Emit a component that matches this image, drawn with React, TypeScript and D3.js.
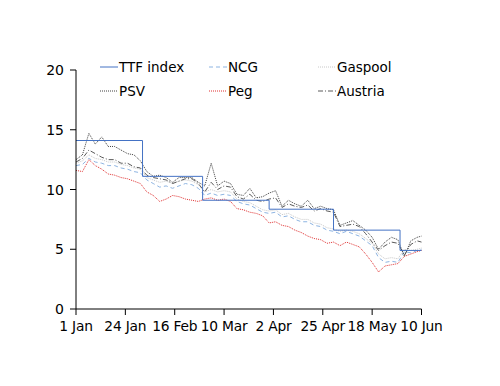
import React from "react";
import * as d3 from "d3";

const tickLabels = ["1 Jan", "24 Jan", "16 Feb", "10 Mar", "2 Apr", "25 Apr", "18 May", "10 Jun"];
const tickDays = [0, 23, 46, 69, 92, 115, 138, 161];
const yTicks = [0, 5, 10, 15, 20];

const days = [0, 3, 6, 9, 12, 15, 18, 21, 24, 27, 30, 33, 36, 39, 42, 45, 48, 51, 54, 57, 60, 63, 66, 69, 72, 75, 78, 81, 84, 87, 90, 93, 96, 99, 102, 105, 108, 111, 114, 117, 120, 123, 126, 129, 132, 135, 138, 141, 144, 147, 150, 153, 156, 159, 161];

const psv = [12.5, 12.9, 14.7, 13.8, 14.4, 13.6, 13.6, 13.3, 13.0, 12.9, 12.4, 11.5, 11.1, 11.2, 11.0, 10.6, 11.0, 11.0, 11.0, 10.6, 10.3, 12.2, 10.3, 10.7, 10.5, 9.6, 9.5, 10.1, 9.3, 9.4, 9.7, 9.9, 8.6, 9.1, 8.8, 8.6, 9.1, 8.4, 8.6, 8.4, 8.3, 7.0, 7.2, 7.4, 7.0, 6.6, 6.0, 5.0, 5.6, 6.0, 5.8, 4.4, 5.7, 6.0, 6.1];
const austria = [12.3, 12.6, 13.3, 13.0, 12.7, 12.5, 12.5, 12.2, 12.2, 11.9, 11.8, 11.2, 11.0, 10.9, 10.8, 10.5, 10.7, 10.9, 10.9, 10.5, 9.8, 10.6, 10.0, 10.3, 10.2, 9.4, 9.2, 9.6, 9.1, 9.0, 9.2, 9.3, 8.5, 8.8, 8.6, 8.5, 8.7, 8.2, 8.4, 8.2, 8.1, 6.9, 7.0, 7.1, 6.9, 6.3, 5.6, 4.9, 5.3, 5.6, 5.5, 4.5, 5.4, 5.7, 5.6];
const ncg = [12.0, 12.1, 12.6, 12.3, 12.2, 12.0, 12.0, 11.8, 11.7, 11.5, 11.4, 10.8, 10.5, 10.2, 10.3, 10.1, 10.3, 10.5, 10.4, 10.1, 9.5, 9.7, 9.5, 9.6, 9.5, 9.0, 8.8, 8.7, 8.4, 8.1, 8.0, 8.1, 7.7, 7.8, 7.5, 7.3, 7.3, 7.0, 6.9, 6.6, 6.5, 6.3, 6.5, 6.3, 6.1, 5.7, 5.3, 4.3, 3.9, 4.0, 3.9, 4.8, 4.7, 4.9, 5.0];
const gaspool = [12.2, 12.4, 12.9, 12.6, 12.5, 12.3, 12.3, 12.1, 12.0, 11.8, 11.7, 11.0, 10.8, 10.6, 10.7, 10.5, 10.7, 10.8, 10.7, 10.4, 9.8, 10.0, 9.8, 9.9, 9.8, 9.2, 9.0, 8.9, 8.6, 8.3, 8.2, 8.3, 7.9, 8.0, 7.7, 7.5, 7.5, 7.2, 7.1, 6.8, 6.7, 6.5, 6.6, 6.5, 6.3, 5.9, 5.5, 4.6, 4.2, 4.3, 4.2, 5.0, 4.9, 5.0, 5.1];
const peg = [11.6, 11.5, 12.5, 12.0, 11.7, 11.3, 11.2, 11.0, 10.9, 10.7, 10.5, 9.8, 9.5, 9.0, 9.2, 9.5, 9.4, 9.2, 9.1, 9.0, 9.2, 9.3, 9.1, 9.2, 9.0, 8.4, 8.3, 8.1, 8.0, 7.8, 7.2, 7.3, 7.0, 6.9, 6.6, 6.4, 6.1, 5.9, 5.8, 5.5, 5.6, 5.3, 5.6, 5.4, 5.2, 4.6, 3.9, 3.1, 3.6, 3.7, 3.8, 4.4, 4.6, 4.8, 4.9];

const ttfDays = [0, 31, 59, 90, 120, 151, 161];
const ttfValues = [14.1, 11.1, 9.1, 8.35, 6.6, 4.9, 4.9];

const seriesNames = ["TTF index", "NCG", "Gaspool", "PSV", "Peg", "Austria"];

const styles: Record<string, { color: string; dash: string; width: number }> = {
  "TTF index": { color: "#4472C4", dash: "", width: 1 },
  NCG: { color: "#8DB4E2", dash: "4,3", width: 1 },
  Gaspool: { color: "#C8C8C8", dash: "1,1", width: 1 },
  PSV: { color: "#404040", dash: "1,1", width: 1 },
  Peg: { color: "#E03030", dash: "1,1", width: 1 },
  Austria: { color: "#5A5A5A", dash: "5,2,1,2", width: 1 },
};

export default function App() {
  const W = 500, H = 386;
  const x = d3.scaleLinear().domain([0, 161]).range([76, 421.5]);
  const y = d3.scaleLinear().domain([0, 20]).range([309, 70]);
  const line = d3.line<[number, number]>().x((d) => x(d[0])).y((d) => y(d[1]));
  const stepLine = d3.line<[number, number]>().x((d) => x(d[0])).y((d) => y(d[1])).curve(d3.curveStepAfter);

  const daily: Record<string, number[]> = { NCG: ncg, Gaspool: gaspool, PSV: psv, Peg: peg, Austria: austria };
  const drawOrder = ["Gaspool", "NCG", "Peg", "Austria", "PSV"];
  const font = "'DejaVu Sans', Verdana, sans-serif";

  const legendCols = [100, 209, 318];
  const legendRows = [67, 91];

  return (
    <svg width={W} height={H} style={{ position: "absolute", left: 0, top: 0, background: "#fff" }}>
      {drawOrder.map((name) => {
        const s = styles[name];
        const pts = days.map((d, i) => [d, daily[name][i]] as [number, number]);
        return (
          <path key={name} d={line(pts) || ""} fill="none" stroke={s.color} strokeWidth={s.width} strokeDasharray={s.dash || undefined} />
        );
      })}
      <path
        d={stepLine(ttfDays.map((d, i) => [d, ttfValues[i]] as [number, number])) || ""}
        fill="none"
        stroke={styles["TTF index"].color}
        strokeWidth={styles["TTF index"].width}
      />
      <line x1={76} x2={76} y1={70} y2={309} stroke="#000" strokeWidth={1} />
      <line x1={76} x2={421.5} y1={309} y2={309} stroke="#000" strokeWidth={1} />
      {yTicks.map((t) => (
        <g key={t}>
          <line x1={70} x2={76} y1={y(t)} y2={y(t)} stroke="#000" />
          <text x={64} y={y(t)} dy="0.36em" textAnchor="end" fontFamily={font} fontSize={14} fill="#000">
            {t}
          </text>
        </g>
      ))}
      {tickDays.map((d, i) => (
        <g key={d}>
          <line x1={x(d)} x2={x(d)} y1={309} y2={315} stroke="#000" />
          <text x={x(d)} y={331} textAnchor="middle" fontFamily={font} fontSize={13.8} letterSpacing={-0.2} fill="#000">
            {tickLabels[i]}
          </text>
        </g>
      ))}
      {seriesNames.map((name, i) => {
        const cx = legendCols[i % 3];
        const cy = legendRows[Math.floor(i / 3)];
        const s = styles[name];
        return (
          <g key={name}>
            <line x1={cx} x2={cx + 18} y1={cy} y2={cy} stroke={s.color} strokeWidth={s.width} strokeDasharray={s.dash || undefined} />
            <text x={cx + 19} y={cy} dy="0.36em" fontFamily={font} fontSize={13.5} fill="#000">
              {name}
            </text>
          </g>
        );
      })}
    </svg>
  );
}
